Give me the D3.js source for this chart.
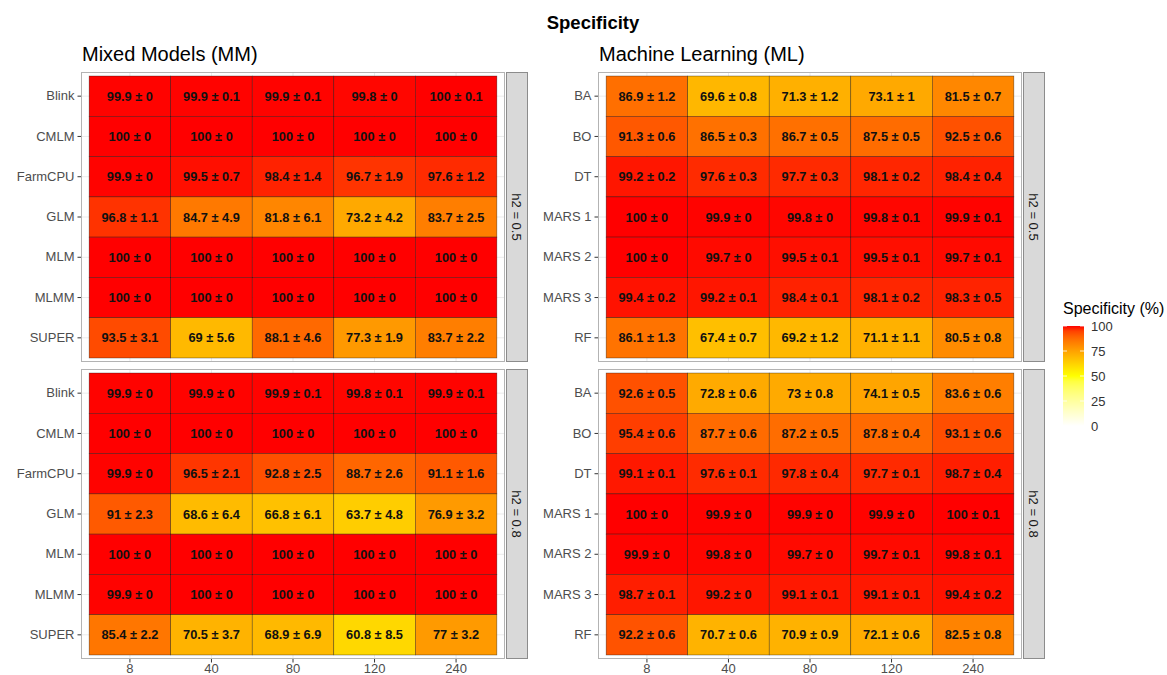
<!DOCTYPE html>
<html>
<head>
<meta charset="utf-8">
<script src="https://cdn.jsdelivr.net/npm/d3@7"></script>
<style>
  html, body { margin: 0; padding: 0; background: #fff; }
  svg { display: block; font-family: "Liberation Sans", Arial, sans-serif; }
</style>
</head>
<body>
<svg id="chart" width="1167" height="675"></svg>
<script>
// Training sizes (x axis) and methods per group
const sizes = ["8", "40", "80", "120", "240"];
const mmMethods = ["Blink", "CMLM", "FarmCPU", "GLM", "MLM", "MLMM", "SUPER"];
const mlMethods = ["BA", "BO", "DT", "MARS 1", "MARS 2", "MARS 3", "RF"];
const heritabilities = ["h2 = 0.5", "h2 = 0.8"];

// Mean specificity (%) and its spread, one row per method, one column per size
const mmMean05 = [
  [99.9, 99.9, 99.9, 99.8, 100],
  [100, 100, 100, 100, 100],
  [99.9, 99.5, 98.4, 96.7, 97.6],
  [96.8, 84.7, 81.8, 73.2, 83.7],
  [100, 100, 100, 100, 100],
  [100, 100, 100, 100, 100],
  [93.5, 69, 88.1, 77.3, 83.7]
];
const mmSd05 = [
  [0, 0.1, 0.1, 0, 0.1],
  [0, 0, 0, 0, 0],
  [0, 0.7, 1.4, 1.9, 1.2],
  [1.1, 4.9, 6.1, 4.2, 2.5],
  [0, 0, 0, 0, 0],
  [0, 0, 0, 0, 0],
  [3.1, 5.6, 4.6, 1.9, 2.2]
];
const mmMean08 = [
  [99.9, 99.9, 99.9, 99.8, 99.9],
  [100, 100, 100, 100, 100],
  [99.9, 96.5, 92.8, 88.7, 91.1],
  [91, 68.6, 66.8, 63.7, 76.9],
  [100, 100, 100, 100, 100],
  [99.9, 100, 100, 100, 100],
  [85.4, 70.5, 68.9, 60.8, 77]
];
const mmSd08 = [
  [0, 0, 0.1, 0.1, 0.1],
  [0, 0, 0, 0, 0],
  [0, 2.1, 2.5, 2.6, 1.6],
  [2.3, 6.4, 6.1, 4.8, 3.2],
  [0, 0, 0, 0, 0],
  [0, 0, 0, 0, 0],
  [2.2, 3.7, 6.9, 8.5, 3.2]
];
const mlMean05 = [
  [86.9, 69.6, 71.3, 73.1, 81.5],
  [91.3, 86.5, 86.7, 87.5, 92.5],
  [99.2, 97.6, 97.7, 98.1, 98.4],
  [100, 99.9, 99.8, 99.8, 99.9],
  [100, 99.7, 99.5, 99.5, 99.7],
  [99.4, 99.2, 98.4, 98.1, 98.3],
  [86.1, 67.4, 69.2, 71.1, 80.5]
];
const mlSd05 = [
  [1.2, 0.8, 1.2, 1, 0.7],
  [0.6, 0.3, 0.5, 0.5, 0.6],
  [0.2, 0.3, 0.3, 0.2, 0.4],
  [0, 0, 0, 0.1, 0.1],
  [0, 0, 0.1, 0.1, 0.1],
  [0.2, 0.1, 0.1, 0.2, 0.5],
  [1.3, 0.7, 1.2, 1.1, 0.8]
];
const mlMean08 = [
  [92.6, 72.8, 73, 74.1, 83.6],
  [95.4, 87.7, 87.2, 87.8, 93.1],
  [99.1, 97.6, 97.8, 97.7, 98.7],
  [100, 99.9, 99.9, 99.9, 100],
  [99.9, 99.8, 99.7, 99.7, 99.8],
  [98.7, 99.2, 99.1, 99.1, 99.4],
  [92.2, 70.7, 70.9, 72.1, 82.5]
];
const mlSd08 = [
  [0.5, 0.6, 0.8, 0.5, 0.6],
  [0.6, 0.6, 0.5, 0.4, 0.6],
  [0.1, 0.1, 0.4, 0.1, 0.4],
  [0, 0, 0, 0, 0.1],
  [0, 0, 0, 0.1, 0.1],
  [0.1, 0, 0.1, 0.1, 0.2],
  [0.6, 0.6, 0.9, 0.6, 0.8]
];
const legendTicks = [0, 25, 50, 75, 100];

const svg = d3.select("#chart");

// white -> yellow -> red, interpolated in Lab space
const color = d3.scaleLinear()
  .domain([0, 50, 100])
  .range(["#ffffff", "#ffff00", "#ff0000"])
  .interpolate(d3.interpolateLab);

const fmt = v => String(v);

// Main title
svg.append("text")
  .attr("x", 593).attr("y", 29)
  .attr("text-anchor", "middle")
  .style("font-size", "18.5px").style("font-weight", "bold").attr("fill", "#000")
  .text("Specificity");

const facetRows = [
  { top: 72, bottom: 362, strip: heritabilities[0] },
  { top: 369, bottom: 659, strip: heritabilities[1] }
];

const groups = [
  { title: "Mixed Models (MM)", left: 81, right: 505, methods: mmMethods,
    means: [mmMean05, mmMean08], sds: [mmSd05, mmSd08] },
  { title: "Machine Learning (ML)", left: 598, right: 1022, methods: mlMethods,
    means: [mlMean05, mlMean08], sds: [mlSd05, mlSd08] }
];

groups.forEach(g => {
  svg.append("text")
    .attr("x", g.left + 1).attr("y", 61)
    .style("font-size", "20px").attr("fill", "#000")
    .text(g.title);

  // discrete scales with 0.6-unit expansion on each side of the tiles
  const x = d3.scaleBand().domain(sizes)
    .range([g.left, g.right]).paddingOuter(0.1).paddingInner(0);

  facetRows.forEach((f, fi) => {
    const y = d3.scaleBand().domain(g.methods)
      .range([f.top, f.bottom]).paddingOuter(0.1).paddingInner(0);
    const panel = svg.append("g");

    panel.append("rect")
      .attr("x", g.left).attr("y", f.top)
      .attr("width", g.right - g.left).attr("height", f.bottom - f.top)
      .attr("fill", "#fff");

    // grid lines
    panel.selectAll("line.gx").data(sizes).join("line")
      .attr("x1", d => x(d) + x.bandwidth() / 2).attr("x2", d => x(d) + x.bandwidth() / 2)
      .attr("y1", f.top).attr("y2", f.bottom)
      .attr("stroke", "#ebebeb").attr("stroke-width", 1);
    panel.selectAll("line.gy").data(g.methods).join("line")
      .attr("y1", d => y(d) + y.bandwidth() / 2).attr("y2", d => y(d) + y.bandwidth() / 2)
      .attr("x1", g.left).attr("x2", g.right)
      .attr("stroke", "#ebebeb").attr("stroke-width", 1);

    const cells = [];
    g.methods.forEach((m, ri) => sizes.forEach((s, ci) => {
      cells.push({ m, s, v: g.means[fi][ri][ci], sd: g.sds[fi][ri][ci] });
    }));

    panel.selectAll("rect.tile").data(cells).join("rect")
      .attr("class", "tile")
      .attr("x", d => x(d.s)).attr("y", d => y(d.m))
      .attr("width", x.bandwidth()).attr("height", y.bandwidth())
      .attr("fill", d => color(d.v))
      .attr("stroke", "#000").attr("stroke-opacity", 0.55).attr("stroke-width", 0.6);

    panel.selectAll("text.lab").data(cells).join("text")
      .attr("x", d => x(d.s) + x.bandwidth() / 2)
      .attr("y", d => y(d.m) + y.bandwidth() / 2)
      .attr("dy", "0.36em")
      .attr("text-anchor", "middle")
      .style("font-size", "12.8px").style("font-weight", "bold").attr("fill", "#111")
      .text(d => `${fmt(d.v)} ± ${fmt(d.sd)}`);

    // panel border
    panel.append("rect")
      .attr("x", g.left + 0.5).attr("y", f.top + 0.5)
      .attr("width", g.right - g.left - 1).attr("height", f.bottom - f.top - 1)
      .attr("fill", "none").attr("stroke", "#b3b3b3").attr("stroke-width", 1);

    // y axis
    const yAxis = d3.axisLeft(y).tickSize(3.5).tickPadding(3);
    const ya = svg.append("g").attr("transform", `translate(${g.left},0)`).call(yAxis);
    ya.select(".domain").remove();
    ya.selectAll(".tick line").attr("stroke", "#333");
    ya.selectAll(".tick text").style("font-size", "13px").attr("fill", "#4d4d4d")
      .style("font-family", "Liberation Sans, Arial, sans-serif");

    if (fi === 1) {
      const xAxis = d3.axisBottom(x).tickSize(3.5).tickPadding(1);
      const xa = svg.append("g").attr("transform", `translate(0,${f.bottom})`).call(xAxis);
      xa.select(".domain").remove();
      xa.selectAll(".tick line").attr("stroke", "#333");
      xa.selectAll(".tick text").style("font-size", "13px").attr("fill", "#4d4d4d")
        .style("font-family", "Liberation Sans, Arial, sans-serif");
    }

    // facet strip
    const sx = g.right + 1.5, sw = 21;
    svg.append("rect")
      .attr("x", sx).attr("y", f.top + 0.5)
      .attr("width", sw).attr("height", f.bottom - f.top - 1)
      .attr("fill", "#d9d9d9").attr("stroke", "#8c8c8c").attr("stroke-width", 1);
    svg.append("text")
      .attr("transform", `translate(${sx + sw / 2},${(f.top + f.bottom) / 2}) rotate(90)`)
      .attr("text-anchor", "middle").attr("dy", "0.35em")
      .style("font-size", "13px").attr("fill", "#1a1a1a")
      .text(f.strip);
  });
});

// Colour bar legend
const lgX = 1063, lgW = 21, lgTop = 326, lgBot = 426;
const ly = d3.scaleLinear().domain([0, 100]).range([lgBot, lgTop]);
const defs = svg.append("defs");
const grad = defs.append("linearGradient").attr("id", "specGrad")
  .attr("x1", 0).attr("y1", 1).attr("x2", 0).attr("y2", 0);
d3.range(0, 101, 5).forEach(v => {
  grad.append("stop").attr("offset", `${v}%`).attr("stop-color", color(v));
});
svg.append("text")
  .attr("x", lgX).attr("y", 314)
  .style("font-size", "16px").attr("fill", "#000")
  .text("Specificity (%)");
svg.append("rect")
  .attr("x", lgX).attr("y", lgTop).attr("width", lgW).attr("height", lgBot - lgTop)
  .attr("fill", "url(#specGrad)");
svg.selectAll("line.lt1").data(legendTicks).join("line")
  .attr("x1", lgX).attr("x2", lgX + 4)
  .attr("y1", d => ly(d)).attr("y2", d => ly(d))
  .attr("stroke", "#fff").attr("stroke-width", 0.8);
svg.selectAll("line.lt2").data(legendTicks).join("line")
  .attr("x1", lgX + lgW - 4).attr("x2", lgX + lgW)
  .attr("y1", d => ly(d)).attr("y2", d => ly(d))
  .attr("stroke", "#fff").attr("stroke-width", 0.8);
svg.selectAll("text.lt").data(legendTicks).join("text")
  .attr("x", lgX + lgW + 7).attr("y", d => ly(d)).attr("dy", "0.35em")
  .style("font-size", "13px").attr("fill", "#333")
  .text(d => d);
</script>
</body>
</html>
